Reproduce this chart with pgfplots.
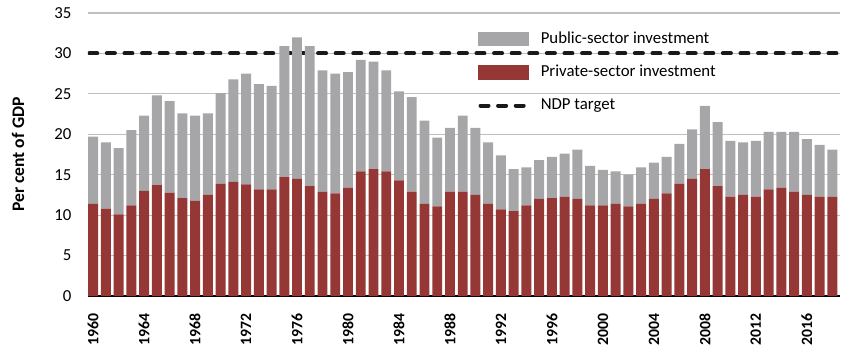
\documentclass[border=0pt]{standalone}
\usepackage{fontspec}
\setmainfont{Carlito}
\usepackage{pgfplots}
\pgfplotsset{compat=1.18}
\usepackage{pgfplotstable}
\definecolor{privred}{RGB}{149,55,53}
\definecolor{pubgray}{RGB}{166,166,168}
\definecolor{gridgray}{RGB}{191,191,191}

\pgfplotstableread{
year private public
1960 11.4 8.3
1961 10.8 8.2
1962 10.1 8.2
1963 11.2 9.3
1964 13.0 9.3
1965 13.7 11.1
1966 12.8 11.3
1967 12.1 10.5
1968 11.8 10.5
1969 12.5 10.1
1970 13.9 11.2
1971 14.1 12.7
1972 13.8 13.7
1973 13.2 13.0
1974 13.2 12.8
1975 14.7 16.2
1976 14.5 17.5
1977 13.6 17.3
1978 12.9 15.0
1979 12.7 14.8
1980 13.4 14.3
1981 15.4 13.8
1982 15.7 13.3
1983 15.4 12.5
1984 14.3 11.0
1985 12.9 11.7
1986 11.4 10.3
1987 11.1 8.5
1988 12.9 7.9
1989 12.9 9.4
1990 12.5 8.3
1991 11.4 7.6
1992 10.7 6.7
1993 10.5 5.2
1994 11.2 4.7
1995 12.0 4.8
1996 12.1 5.1
1997 12.3 5.3
1998 12.0 6.1
1999 11.2 4.9
2000 11.2 4.4
2001 11.4 4.0
2002 11.1 3.9
2003 11.4 4.5
2004 12.0 4.5
2005 12.7 4.5
2006 13.9 4.9
2007 14.5 6.1
2008 15.7 7.8
2009 13.6 7.9
2010 12.3 6.9
2011 12.5 6.5
2012 12.3 6.9
2013 13.2 7.1
2014 13.4 6.9
2015 12.9 7.4
2016 12.5 6.9
2017 12.3 6.4
2018 12.3 5.8
}\datatable

\begin{document}
\fontsize{12.6}{15}\selectfont
\begin{tikzpicture}
\begin{axis}[
  at={(0pt,0pt)}, anchor=south west,
  scale only axis, width=564pt, height=212.25pt,
  ybar stacked, bar width=0.78,
  xmin=1959.6, xmax=2018.6, ymin=0, ymax=35,
  ytick={0,5,...,35},
  xtick={1960,1964,...,2016},
  axis x line*=bottom, axis y line*=left,
  y axis line style={draw=none},
  x axis line style={black, line width=1.5pt, -},
  major tick length=0pt,
  ymajorgrids, grid style={gridgray, line width=0.8pt},
  /pgf/number format/assume math mode=true,
  /pgf/number format/1000 sep={},
  tick label style={font=\fontsize{12.6}{15}\selectfont},
  yticklabel style={xshift=-8pt},
  xticklabel style={yshift=-8.5pt, rotate=90, anchor=east, font=\fontsize{11.8}{14}\selectfont\bfseries},
  ylabel={Per cent of GDP},
  ylabel style={at={(axis description cs:-0.0931,0.5)}, anchor=center, font=\fontsize{13.2}{15}\selectfont\bfseries},
  legend style={draw=none, fill=none, at={(axis description cs:0.5186,0.935)}, anchor=north west, inner sep=0pt, row sep=14.6pt, column sep=9pt, nodes={inner sep=0pt}, font=\fontsize{12.6}{15}\selectfont},
  legend cell align=left,
]
\addplot[fill=privred, draw=none, forget plot] table[x=year, y=private] {\datatable};
\addplot[fill=pubgray, draw=none, forget plot] table[x=year, y=public] {\datatable};
\addplot[sharp plot, stack plots=false, black!90, line width=3pt, dash pattern=on 6pt off 7.2pt, line cap=round, forget plot] coordinates {(1959.7,30) (2018.5,30)};
\addlegendimage{legend image code/.code={\fill[pubgray] (0pt,-5pt) rectangle (37.5pt,5pt);}}
\addlegendentry{Public-sector investment}
\addlegendimage{legend image code/.code={\fill[privred] (0pt,-5pt) rectangle (37.5pt,5pt);}}
\addlegendentry{Private-sector investment}
\addlegendimage{legend image code/.code={\draw[black!90, line width=3pt, dash pattern=on 6pt off 7.2pt, line cap=round] (1.5pt,0pt) -- (36pt,0pt);}}
\addlegendentry{NDP target}
\end{axis}
\pgfresetboundingbox
\path[use as bounding box] (-66pt,-41.25pt) rectangle (571.5pt,222pt);
\end{tikzpicture}
\end{document}
